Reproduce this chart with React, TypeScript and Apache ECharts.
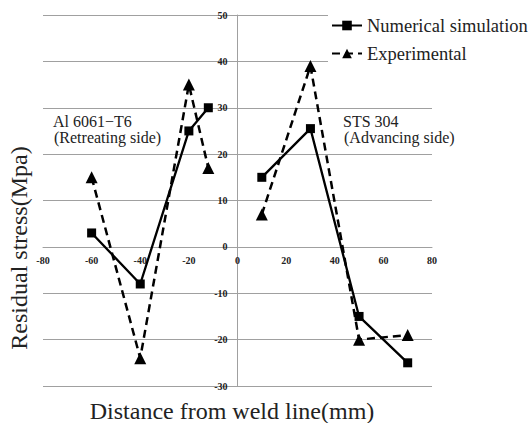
import React, { useEffect, useRef } from 'react';
import * as echarts from 'echarts';

const xLeft = [-60, -40, -20, -12];
const xRight = [10, 30, 50, 70];
const simLeft = [3, -8, 25, 30];
const simRight = [15, 25.5, -15, -25];
const expLeft = [15, -24, 35, 17];
const expRight = [7, 39, -20, -19];

const seriesNames = ['Numerical simulation', 'Experimental'];
const xAxisName = 'Distance from weld line(mm)';
const yAxisName = 'Residual stress(Mpa)';
const leftNote = ['Al 6061\u2212T6', '(Retreating side)'];
const rightNote = ['STS 304', '(Advancing side)'];

const zip = (xs: number[], ys: number[]) => xs.map((x, i) => [x, ys[i]]);

const FONT = 'Liberation Serif';

const GRID = { left: 43, right: 96, top: 15, bottom: 37 };
const W = 528;
const H = 423;

export default function App() {
  const ref = useRef<HTMLDivElement>(null);
  useEffect(() => {
    if (!ref.current) return;
    const chart = echarts.init(ref.current, null, { renderer: 'svg' });
    const plotH = H - GRID.top - GRID.bottom;
    const plotW = W - GRID.left - GRID.right;
    // shift axes so they sit on the other axis' zero
    const xOffset = -(plotH * 30) / 80;
    const yOffset = -plotW / 2;
    const simStyle = {
      type: 'line',
      name: seriesNames[0],
      symbol: 'rect',
      symbolSize: 9,
      lineStyle: { color: '#000', width: 2.3, type: 'solid' },
      itemStyle: { color: '#000' },
      z: 3,
    };
    const expStyle = {
      type: 'line',
      name: seriesNames[1],
      symbol: 'triangle',
      symbolSize: 12,
      lineStyle: { color: '#000', width: 2.5, type: [8, 5] },
      itemStyle: { color: '#000' },
      z: 2,
    };
    const textStyle = { fontFamily: FONT, fontSize: 16, fill: '#222' };
    const tickLabel = {
      fontFamily: FONT,
      fontSize: 10,
      fontWeight: 'bold',
      color: '#222',
    };
    chart.setOption({
      animation: false,
      backgroundColor: '#fff',
      textStyle: { fontFamily: FONT },
      grid: GRID,
      legend: {
        orient: 'vertical',
        left: 328,
        top: 10,
        padding: [6, 0, 4, 3],
        backgroundColor: '#fff',
        itemWidth: 30,
        itemHeight: 12,
        itemGap: 9,
        data: seriesNames,
        textStyle: { fontFamily: FONT, fontSize: 18.5, color: '#222' },
      },
      xAxis: {
        type: 'value',
        min: -80,
        max: 80,
        interval: 20,
        offset: xOffset,
        axisLine: { onZero: false, lineStyle: { color: '#a0a0a0', width: 1 } },
        axisTick: { show: false },
        splitLine: { show: false },
        axisLabel: { ...tickLabel, margin: 9 },
      },
      yAxis: {
        type: 'value',
        min: -30,
        max: 50,
        interval: 10,
        offset: yOffset,
        axisLine: { show: true, onZero: false, lineStyle: { color: '#a0a0a0', width: 1 } },
        axisTick: { show: false },
        splitLine: { show: true, lineStyle: { color: '#a0a0a0', width: 1 } },
        axisLabel: { ...tickLabel, margin: 10 },
      },
      graphic: [
        {
          type: 'text',
          x: 232,
          y: 411,
          style: { ...textStyle, text: xAxisName, fontSize: 24, align: 'center', verticalAlign: 'middle' },
        },
        {
          type: 'text',
          x: 19,
          y: 248,
          rotation: Math.PI / 2,
          style: { ...textStyle, text: yAxisName, fontSize: 24, align: 'center', verticalAlign: 'middle' },
        },
        { type: 'text', x: 53, y: 121, style: { ...textStyle, text: leftNote[0], verticalAlign: 'middle' } },
        { type: 'text', x: 54, y: 137, style: { ...textStyle, text: leftNote[1], verticalAlign: 'middle' } },
        { type: 'text', x: 343, y: 121, style: { ...textStyle, text: rightNote[0], verticalAlign: 'middle' } },
        { type: 'text', x: 344, y: 137, style: { ...textStyle, text: rightNote[1], verticalAlign: 'middle' } },
      ],
      series: [
        { ...expStyle, data: zip(xLeft, expLeft) },
        { ...expStyle, data: zip(xRight, expRight) },
        { ...simStyle, data: zip(xLeft, simLeft) },
        { ...simStyle, data: zip(xRight, simRight) },
      ],
    });
    return () => chart.dispose();
  }, []);
  return (
    <div
      ref={ref}
      style={{ position: 'fixed', left: 0, top: 0, width: W, height: H, background: '#fff' }}
    />
  );
}
